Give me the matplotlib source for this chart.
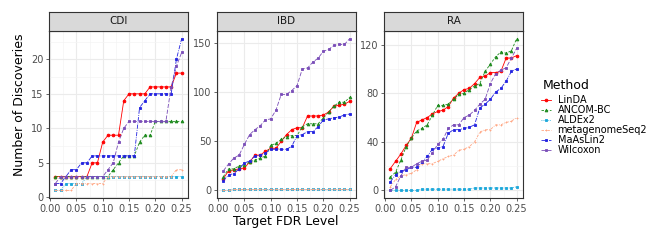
import matplotlib
matplotlib.use("Agg")
import matplotlib.pyplot as plt
from matplotlib.lines import Line2D
from matplotlib.ticker import MultipleLocator

fdr = [round(0.01 * i, 2) for i in range(1, 26)]

methods = ["LinDA", "ANCOM-BC", "ALDEx2", "metagenomeSeq2", "MaAsLin2", "Wilcoxon"]
datasets = ["CDI", "IBD", "RA"]

cdi_linda = [3, 3, 3, 3, 3, 3, 3, 5, 5, 8, 9, 9, 9, 14, 15, 15, 15, 15, 16, 16, 16, 16, 16, 18, 18]
cdi_ancom = [3, 3, 3, 3, 3, 3, 3, 3, 3, 3, 3, 4, 5, 6, 6, 6, 8, 9, 9, 11, 11, 11, 11, 11, 11]
cdi_aldex = [1, 1, 2, 2, 2, 2, 3, 3, 3, 3, 3, 3, 3, 3, 3, 3, 3, 3, 3, 3, 3, 3, 3, 3, 3]
cdi_mgs = [1, 1, 1, 1, 2, 2, 2, 2, 2, 2, 3, 3, 3, 3, 3, 3, 3, 3, 3, 3, 3, 3, 3, 4, 4]
cdi_maaslin = [2, 2, 3, 4, 4, 5, 5, 6, 6, 6, 6, 6, 6, 6, 6, 6, 13, 14, 15, 15, 15, 15, 15, 20, 23]
cdi_wilcox = [2, 3, 3, 3, 3, 3, 3, 3, 3, 3, 4, 5, 8, 10, 11, 11, 11, 11, 11, 11, 11, 11, 16, 19, 21]

ibd_linda = [12, 20, 21, 22, 23, 29, 36, 36, 40, 43, 43, 50, 57, 62, 64, 64, 76, 76, 76, 77, 80, 86, 87, 88, 91]
ibd_ancom = [14, 22, 22, 25, 26, 29, 31, 33, 35, 46, 48, 52, 55, 56, 56, 65, 68, 68, 68, 74, 80, 86, 90, 90, 95]
ibd_aldex = [0, 0, 1, 1, 1, 1, 1, 1, 1, 1, 1, 1, 1, 1, 1, 1, 1, 1, 1, 1, 1, 1, 1, 1, 1]
ibd_mgs = [0, 0, 1, 1, 1, 1, 1, 1, 1, 1, 1, 1, 1, 1, 1, 1, 1, 1, 1, 1, 1, 1, 1, 1, 1]
ibd_maaslin = [10, 16, 17, 22, 28, 30, 35, 36, 38, 42, 42, 42, 42, 45, 56, 57, 60, 60, 65, 72, 73, 74, 75, 77, 78]
ibd_wilcox = [20, 27, 33, 36, 47, 57, 62, 66, 72, 73, 82, 98, 98, 102, 107, 124, 125, 131, 135, 142, 144, 148, 149, 149, 155]

ra_linda = [18, 24, 30, 37, 43, 56, 58, 60, 63, 65, 66, 69, 76, 80, 83, 84, 88, 93, 94, 97, 97, 98, 109, 109, 111]
ra_ancom = [11, 15, 25, 36, 43, 49, 51, 54, 62, 70, 70, 71, 75, 79, 80, 83, 86, 88, 98, 104, 110, 114, 113, 115, 125]
ra_aldex = [0, 0, 0, 0, 0, 0, 1, 1, 1, 1, 1, 1, 1, 1, 1, 1, 2, 2, 2, 2, 2, 2, 2, 2, 3]
ra_mgs = [3, 9, 12, 13, 14, 17, 22, 22, 22, 24, 26, 28, 29, 33, 34, 36, 40, 48, 50, 50, 54, 54, 56, 57, 60]
ra_maaslin = [7, 13, 16, 17, 19, 19, 23, 28, 34, 35, 36, 47, 50, 50, 51, 52, 54, 68, 71, 75, 81, 84, 90, 98, 100]
ra_wilcox = [0, 3, 12, 19, 19, 22, 24, 25, 31, 38, 42, 51, 54, 54, 60, 62, 66, 71, 75, 88, 96, 99, 101, 109, 117]

series = {
    "CDI": [cdi_linda, cdi_ancom, cdi_aldex, cdi_mgs, cdi_maaslin, cdi_wilcox],
    "IBD": [ibd_linda, ibd_ancom, ibd_aldex, ibd_mgs, ibd_maaslin, ibd_wilcox],
    "RA": [ra_linda, ra_ancom, ra_aldex, ra_mgs, ra_maaslin, ra_wilcox],
}
y_steps = {"CDI": 5, "IBD": 50, "RA": 40}

STYLE = {
    "LinDA": dict(color="#FF0000", ls="-", marker="o"),
    "ANCOM-BC": dict(color="#1E8B1E", ls=(0, (3, 2)), marker="^"),
    "ALDEx2": dict(color="#1AA7DA", ls=(0, (1, 1.5)), marker="s"),
    "metagenomeSeq2": dict(color="#FFA784", ls=(0, (3, 1.5, 1, 1.5)), marker="+"),
    "MaAsLin2": dict(color="#2222E0", ls=(0, (5, 1.5, 1, 1.5)), marker="s"),
    "Wilcoxon": dict(color="#7A4DB8", ls=(0, (5, 2)), marker="s"),
}

plt.rcParams["font.family"] = ["DejaVu Sans"]
W, H = 660, 240
fig = plt.figure(figsize=(W / 100, H / 100), dpi=100)

lefts = [49, 217, 384]
pw = 139
top, bottom = 31, 198
strip_top = 12

for left, name in zip(lefts, datasets):
    ax = fig.add_axes([left / W, (H - bottom) / H, pw / W, (bottom - top) / H])
    for method, vals in zip(methods, series[name]):
        st = STYLE[method]
        ax.plot(fdr, vals, color=st["color"], ls=st["ls"], lw=0.6,
                marker=st["marker"], ms=2.0, mew=0.6, zorder=3)
    ax.margins(x=0.05, y=0.05)
    ax.xaxis.set_major_locator(MultipleLocator(0.05))
    ax.xaxis.set_minor_locator(MultipleLocator(0.025))
    ax.yaxis.set_major_locator(MultipleLocator(y_steps[name]))
    ax.yaxis.set_minor_locator(MultipleLocator(y_steps[name] / 2))
    ax.set_xticks([0, 0.05, 0.10, 0.15, 0.20, 0.25])
    ax.set_xticklabels(["0.00", "0.05", "0.10", "0.15", "0.20", "0.25"])
    ax.grid(True, which="major", color="#EBEBEB", lw=0.8, zorder=0)
    ax.grid(True, which="minor", color="#F4F4F4", lw=0.5, zorder=0)
    ax.set_axisbelow(True)
    ax.tick_params(which="major", labelsize=7, colors="#4D4D4D", length=2.5, width=0.6, pad=1.5)
    ax.tick_params(which="minor", length=0)
    for sp in ax.spines.values():
        sp.set_color("#333333")
        sp.set_linewidth(0.8)

    sax = fig.add_axes([left / W, (H - top) / H, pw / W, (top - strip_top) / H])
    sax.set_facecolor("#D9D9D9")
    sax.set_xticks([])
    sax.set_yticks([])
    for sp in sax.spines.values():
        sp.set_color("#333333")
        sp.set_linewidth(0.8)
    sax.text(0.5, 0.5, name, ha="center", va="center", fontsize=7.5, color="#1A1A1A",
             transform=sax.transAxes)

fig.text(20 / W, 1 - 105 / H, "Number of Discoveries", rotation=90, ha="center", va="center",
         fontsize=9)
fig.text(286 / W, 1 - 222 / H, "Target FDR Level", ha="center", va="center", fontsize=9)

# legend: title drawn separately so the entry spacing can stay tight
fig.text(543 / W, 1 - 85 / H, "Method", ha="left", va="center", fontsize=9)
handles = [Line2D([], [], color=STYLE[m]["color"], ls=STYLE[m]["ls"], lw=0.6,
                  marker=STYLE[m]["marker"], ms=2.0, mew=0.6) for m in methods]
fig.legend(handles, methods, loc="upper left",
           bbox_to_anchor=(541 / W, 1 - 95 / H), frameon=False, fontsize=7,
           handlelength=1.0, handletextpad=0.7, labelspacing=0.0,
           borderaxespad=0, borderpad=0)

fig.savefig("out.png", dpi=100)
